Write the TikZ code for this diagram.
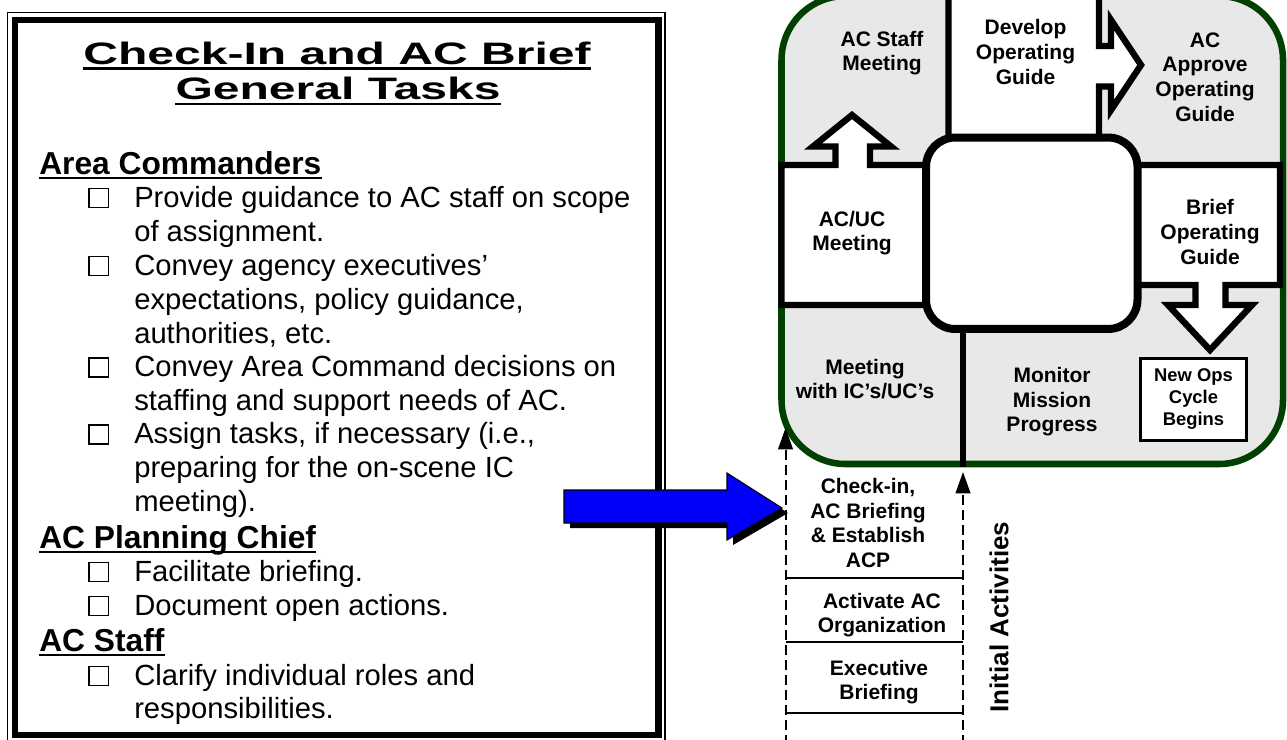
\documentclass[tikz,border=0pt]{standalone}
\usepackage{fontspec}
\usepackage{graphicx}
\setmainfont{Liberation Sans}
\usetikzlibrary{arrows.meta,calc}
\definecolor{ggreen}{RGB}{0,64,0}
\definecolor{lgray}{RGB}{232,232,232}
\definecolor{ablue}{RGB}{0,0,250}
\begin{document}
\begin{tikzpicture}[x=0.75pt,y=-0.75pt,
  body/.style={anchor=base west, inner sep=0pt, font=\fontsize{21.9}{25}\selectfont},
  head/.style={anchor=base west, inner sep=0pt, font=\fontsize{23.8}{27}\selectfont\bfseries},
  ttl/.style={anchor=base, inner sep=0pt, font=\fontsize{23.25}{27}\selectfont\bfseries},
  lbl/.style={align=center, inner sep=0pt, font=\fontsize{15.75}{18.4}\selectfont\bfseries},
  small/.style={align=center, inner sep=0pt, font=\fontsize{13.8}{16.3}\selectfont\bfseries},
  cbox/.style={line width=1.1pt},
  uline/.style={line width=2pt},
  quad/.style={line width=4.8pt, fill=white, draw=black},
  dashln/.style={line width=1.5pt, dash pattern=on 7.5pt off 3.75pt},
  dasharrow/.style={dashln, -{Triangle[length=16pt, width=11pt]}},
  sepline/.style={line width=1.5pt}
]
\useasboundingbox (0,0) rectangle (1287,739);
\fill[white] (0,0) rectangle (1287,739);

% ---------------- left panel frame ----------------
\draw[line width=1.1pt] (7.5,12.3) rectangle (665,760);
\draw[line width=4.8pt] (15,20) rectangle (658.3,735);

% title
\node[ttl] (t1) at (337,64) {\scalebox{1.55}[1]{Check-In and AC Brief}};
\node[ttl] (t2) at (338,99) {\scalebox{1.55}[1]{General Tasks}};
\draw[uline] ($(t1.base west)+(0,4.5)$) -- ($(t1.base east)+(0,4.5)$);
\draw[uline] ($(t2.base west)+(0,5)$) -- ($(t2.base east)+(0,5)$);

% headings
\node[head] (h1) at (39,174) {Area Commanders};
\node[head] (h2) at (39,548) {AC Planning Chief};
\node[head] (h3) at (39,651) {AC Staff};
\foreach \h in {h1,h2,h3}
  \draw[uline] ($(\h.base west)+(0,4)$) -- ($(\h.base east)+(0,4)$);

% body lines
\node[body] (b1) at (134,207.5) {Provide guidance to AC staff on scope};
\node[body] (b2) at (134,241.3) {of assignment.};
\node[body] (b3) at (134,275.6) {Convey agency executives’};
\node[body] (b4) at (134,309.4) {expectations, policy guidance,};
\node[body] (b5) at (134,343.0) {authorities, etc.};
\node[body] (b6) at (134,376.8) {Convey Area Command decisions on};
\node[body] (b7) at (134,410.3) {staffing and support needs of AC.};
\node[body] (b8) at (134,443.8) {Assign tasks, if necessary (i.e.,};
\node[body] (b9) at (134,477.9) {preparing for the on-scene IC};
\node[body] (b10) at (134,511.7) {meeting).};
\node[body] (b11) at (134,581.5) {Facilitate briefing.};
\node[body] (b12) at (134,615.5) {Document open actions.};
\node[body] (b13) at (134,685.5) {Clarify individual roles and};
\node[body] (b14) at (134,718.5) {responsibilities.};

% checkboxes
\foreach \yy in {207.5,275.6,376.8,443.8,581.5,615.5,685.5}
  \draw[cbox] (89,\yy-19) rectangle (108.5,\yy);

% ---------------- right cycle diagram ----------------
\draw[ggreen, line width=4.9pt, fill=lgray, rounded corners=48pt] (781.5,-4) rectangle (1283,464);

% top box with right arrow
\draw[quad] (948.5,-12) -- (948.5,140) -- (1099,140) -- (1099,86.5) -- (1111,86.5)
  -- (1111,110) -- (1141,65) -- (1111,20) -- (1111,46) -- (1099,46) -- (1099,-12) -- cycle;
% left box with up arrow
\draw[quad] (781.5,165) -- (835.5,165) -- (835.5,146.5) -- (813,146.5) -- (852,115)
  -- (891,146.5) -- (870,146.5) -- (870,165) -- (935,165) -- (935,305) -- (781.5,305) -- cycle;
% right box with down arrow
\draw[quad] (1130,165) -- (1280,165) -- (1280,285) -- (1225.5,285) -- (1225.5,305)
  -- (1252,305) -- (1210,350) -- (1168,305) -- (1195.5,305) -- (1195.5,285) -- (1130,285) -- cycle;

% hub
\node[draw, line width=6pt, fill=white, rounded corners=22pt, inner sep=0pt,
  minimum width=158.6pt, minimum height=143.6pt] (hub) at (1031.75,233.25) {};
\coordinate (hubbot) at (963,467);
\draw[line width=5pt] (hub.south -| hubbot) -- (hubbot);

% new ops box
\node[draw, line width=2.25pt, fill=white, minimum width=80pt, minimum height=61.5pt,
  inner sep=0pt] (newops) at (1193.5,399) {};
\node[small] (newopst) at (1193.5,399) {New Ops\\Cycle\\Begins};

% quadrant labels
\node[lbl] (acstaff) at (882,53) {AC Staff\\Meeting};
\node[lbl] (develop) at (1025.5,52) {Develop\\Operating\\Guide};
\node[lbl] (approve) at (1205,77) {AC\\Approve\\Operating\\Guide};
\node[lbl] (acuc) at (852,233) {AC/UC\\Meeting};
\node[lbl] (brief) at (1210,232) {Brief\\Operating\\Guide};
\node[lbl] (meetic) at (865,379) {Meeting\\with IC’s/UC’s};
\node[lbl] (monitor) at (1052,402) {Monitor\\Mission\\Progress};

% initial activities
\coordinate (dlb) at (785.5,760);
\coordinate (dlt) at (785.5,428);
\coordinate (drb) at (963,760);
\coordinate (drt) at (963,472);
\draw[dasharrow] (dlb) -- (dlt);
\draw[dasharrow] (drb) -- (drt);
\foreach \yy in {578,642,713}
  \draw[sepline] (785.5,\yy) -- (963,\yy);
\node[lbl] (checkin) at (868,523) {Check-in,\\AC Briefing\\\& Establish\\ACP};
\node[lbl] (activate) at (882,615) {Activate AC\\Organization};
\node[lbl] (exec) at (879,682) {Executive\\Briefing};
\node[rotate=90, inner sep=0pt, font=\fontsize{19.5}{22}\selectfont\bfseries] (initial) at (999,617) {Initial Activities};

% ---------------- blue arrow ----------------
\fill[black] (570,495) -- (733,495) -- (733,478) -- (788,513) -- (733,545) -- (733,528) -- (570,528) -- cycle;
\draw[line width=0.8pt, fill=ablue] (564,490) -- (727,490) -- (727,473) -- (782,508)
  -- (727,540) -- (727,523) -- (564,523) -- cycle;
\end{tikzpicture}
\end{document}
